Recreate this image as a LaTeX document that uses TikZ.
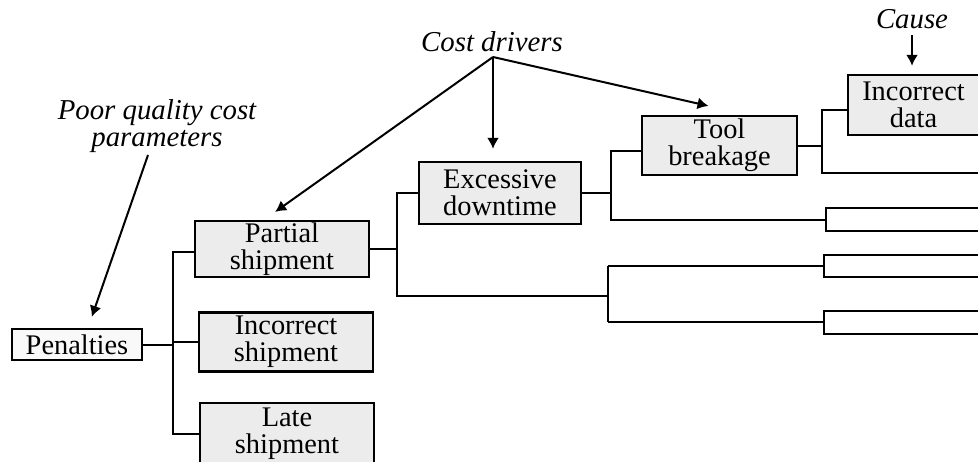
\documentclass[tikz,border=0pt]{standalone}
\usepackage{fontspec}
\setmainfont{Liberation Serif}
\usetikzlibrary{arrows.meta}
\begin{document}
\begin{tikzpicture}[x=0.5pt,y=-0.5pt,
  box/.style={draw=black,line width=1.2pt,fill=gray!15,inner sep=0.5pt,
    align=center,font=\fontsize{14.2}{13.4}\selectfont},
  plainbox/.style={box,fill=gray!5},
  lbl/.style={inner sep=0pt,align=center,font=\fontsize{14.4}{13.6}\selectfont\itshape},
  wire/.style={line width=1pt},
  arr/.style={line width=1pt,-{Latex[length=5.5pt,width=6pt]}}]
\useasboundingbox (0,0) rectangle (978,461);
\clip (0,0) rectangle (978,461);

% labels
\node[lbl] (pq) at (157,126) {Poor quality cost\\parameters};
\node[lbl] (cd) at (492,42) {Cost drivers};
\node[lbl] (cause) at (912,19) {Cause};
\coordinate (pqapex) at (148,155);
\coordinate (cdapex) at (493,57);
\coordinate (causeapex) at (912,35);

% boxes
\node[plainbox,minimum width=65pt,minimum height=15.5pt] (pen) at (77,344.5) {Penalties};
\node[box,minimum width=87pt,minimum height=28pt] (part) at (282,249) {Partial\\shipment};
\node[box,minimum width=87pt,minimum height=29.5pt] (inc) at (286,342) {Incorrect\\shipment};
\node[box,minimum width=87pt,minimum height=31pt] (late) at (287,434) {Late\\shipment};
\node[box,minimum width=81pt,minimum height=31pt] (ed) at (500,193) {Excessive\\downtime};
\node[box,minimum width=77.5pt,minimum height=29.5pt] (tool) at (719.5,145.5) {Tool\\breakage};
\node[box,minimum width=65.5pt,minimum height=30pt] (idata) at (913.5,105) {Incorrect\\data};

% bus positions and free ends
\coordinate (b1) at (173,0);
\coordinate (b2) at (397,0);
\coordinate (j1) at (608,296);
\coordinate (b3) at (611,0);
\coordinate (b4) at (822,0);
\coordinate (ea) at (826,208);
\coordinate (eb) at (826,231);
\coordinate (fa) at (824,255);
\coordinate (fb) at (824,277);
\coordinate (ga) at (824,311);
\coordinate (gb) at (824,334);
\coordinate (edge) at (985,0);

% penalties tree
\draw[wire] (pen.east) -- (pen.east -| b1);
\draw[wire] ([yshift=-1.5pt]part.west) -- ([yshift=-1.5pt]part.west -| b1) -- (late.west -| b1) -- (late.west);
\draw[wire] (inc.west -| b1) -- (inc.west);

% partial shipment tree
\draw[wire] (part.east) -- (part.east -| b2);
\draw[wire] (ed.west) -- (ed.west -| b2) -- (j1 -| b2) -- (j1);
\draw[wire] (j1 |- 0,266) -- (j1 |- 0,322);
\draw[wire] (j1 |- 0,266) -- (fa |- 0,266);
\draw[wire] (j1 |- 0,322) -- (ga |- 0,322);
\draw[wire] (edge |- fa) -- (fa) -- (fb) -- (edge |- fb);
\draw[wire] (edge |- ga) -- (ga) -- (gb) -- (edge |- gb);

% excessive downtime tree
\draw[wire] (ed.east) -- (ed.east -| b3);
\draw[wire] ([yshift=-2.5pt]tool.west) -- ([yshift=-2.5pt]tool.west -| b3) -- (b3 |- 0,220) -- (ea |- 0,220);
\draw[wire] (edge |- ea) -- (ea) -- (eb) -- (edge |- eb);

% tool breakage tree
\draw[wire] (tool.east) -- (tool.east -| b4);
\draw[wire] ([yshift=-2.5pt]idata.west) -- ([yshift=-2.5pt]idata.west -| b4) -- (b4 |- 0,173) -- (edge |- 0,173);

% annotation arrows
\draw[arr,shorten >=5.8pt] (pqapex) -- ([xshift=5.5pt]pen.north);
\draw[arr,shorten >=6.8pt] (cdapex) -- ([xshift=-9pt]part.north);
\draw[arr,shorten >=6pt] (cdapex) -- ([xshift=-3.5pt]ed.north);
\draw[arr,shorten >=20pt] (cdapex) -- ([xshift=14pt]tool.north);
\draw[arr,shorten >=4pt] (causeapex) -- ([xshift=-0.75pt]idata.north);
\end{tikzpicture}
\end{document}
